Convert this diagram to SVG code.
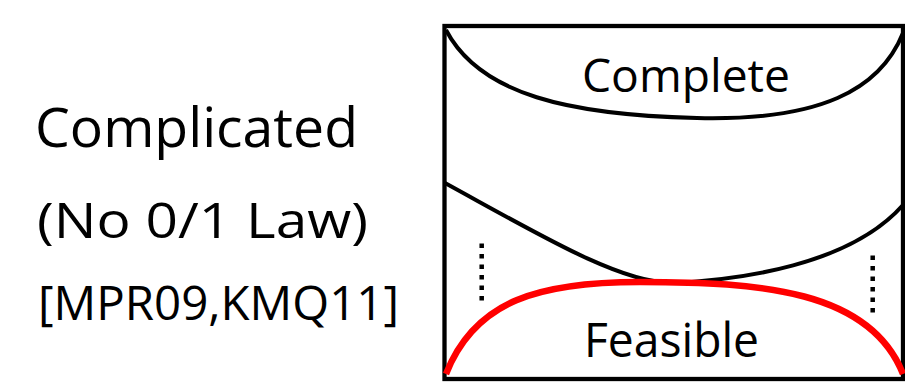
<svg xmlns="http://www.w3.org/2000/svg" width="905" height="382" viewBox="0 0 905 382">
<style>
.t{font-family:"Open Sans","Noto Sans",sans-serif;fill:#000}
.c{fill:none;stroke:#000;stroke-width:4}
.r{fill:none;stroke:#ff0000;stroke-width:6.5}
.d{fill:none;stroke:#000;stroke-width:4.5;stroke-dasharray:4.5 6}
</style>
<rect width="905" height="382" fill="#fff"/>
<g id="labels">
<text class="t" x="35" y="147" font-size="54" textLength="323" lengthAdjust="spacingAndGlyphs">Complicated</text>
<text class="t" x="37" y="238" font-size="50" textLength="331" lengthAdjust="spacingAndGlyphs">(No 0/1 Law)</text>
<text class="t" x="38" y="320" font-size="48" textLength="361" lengthAdjust="spacingAndGlyphs">[MPR09,KMQ11]</text>
</g>
<g id="frame">
<rect x="444.5" y="26" width="458.5" height="353" fill="none" stroke="#000" stroke-width="4.3"/>
</g>
<g id="complete">
<path class="c" d="M446,30 C480,95 570,115 697,118 C820,121 880,90 903,33"/>
<text class="t" x="582" y="92" font-size="46" textLength="208" lengthAdjust="spacingAndGlyphs">Complete</text>
</g>
<g id="complicated-boundary">
<path class="c" d="M445,183 C540,235 620,283 672,283 C740,280 850,265 903,205"/>
</g>
<g id="feasible">
<path class="r" d="M446,374 C475,300 540,282 640,282 C760,282 870,290 903,374"/>
<text class="t" x="584" y="357" font-size="48" textLength="175" lengthAdjust="spacingAndGlyphs">Feasible</text>
</g>
<g id="dots">
<line class="d" x1="481.7" y1="243.5" x2="481.7" y2="301"/>
<line class="d" x1="872.7" y1="255.5" x2="872.7" y2="313"/>
</g>
</svg>
